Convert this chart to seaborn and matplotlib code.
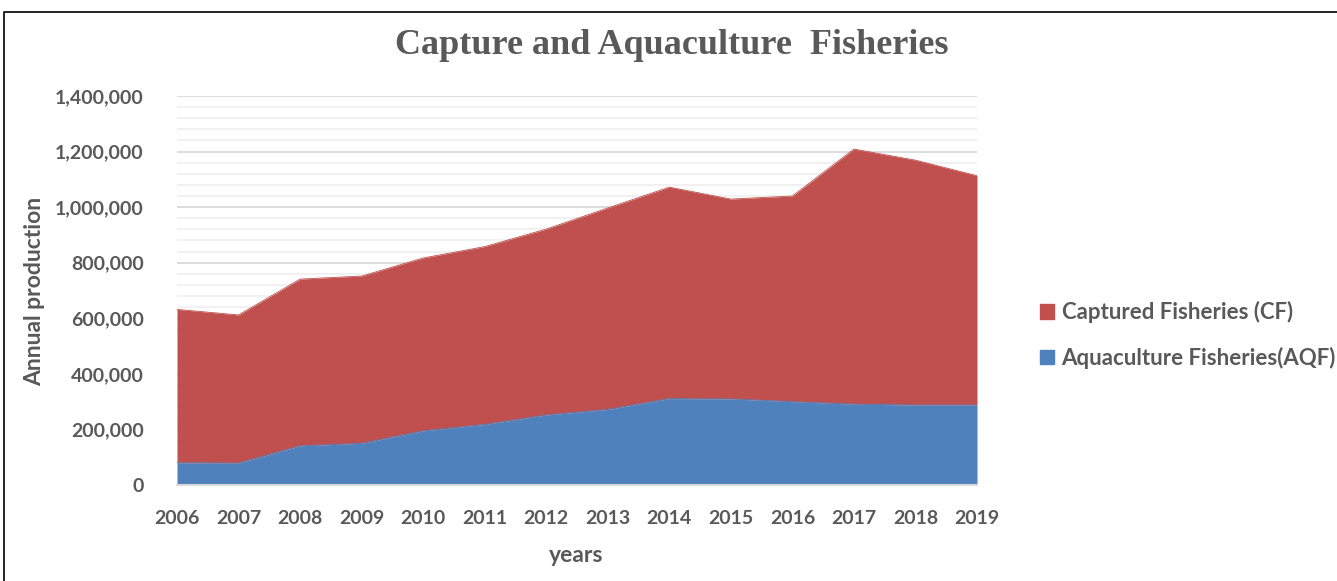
import numpy as np
import pandas as pd
import matplotlib
matplotlib.use("Agg")
import matplotlib.pyplot as plt
from matplotlib.lines import Line2D
from matplotlib.ticker import FuncFormatter, MultipleLocator
import seaborn as sns

years = [2006, 2007, 2008, 2009, 2010, 2011, 2012, 2013, 2014, 2015, 2016, 2017, 2018, 2019]
aquaculture = [80000, 79000, 141000, 150000, 195000, 218000, 252000, 272000, 311000, 310000, 300000, 291000, 288000, 288000]
captured = [552000, 533000, 600000, 602000, 622000, 640000, 669000, 725000, 761000, 719000, 740000, 918000, 881000, 825000]

labels = ["Captured Fisheries (CF)", "Aquaculture Fisheries(AQF)"]
red = "#C0504D"
blue = "#4F81BD"
gray = "#595959"

sns.set_theme(style="white")
plt.rcParams['font.family'] = ['Lato', 'DejaVu Sans']

df = pd.DataFrame({"year": years, "AQF": aquaculture, "CF": captured})
df["total"] = df["AQF"] + df["CF"]

fig = plt.figure(figsize=(13.37, 5.81), dpi=100)
ax = fig.add_axes([177/1337, 1-485/581, 800/1337, 389/581])

ax.fill_between(df["year"], 0, df["AQF"], color=blue, linewidth=0, zorder=2)
ax.fill_between(df["year"], df["AQF"], df["total"], color=red, linewidth=0, zorder=2)
sns.lineplot(x="year", y="AQF", data=df, ax=ax, color=blue, linewidth=0.6, zorder=3)
sns.lineplot(x="year", y="total", data=df, ax=ax, color=red, linewidth=0.6, zorder=3)

ax.set_xlim(2006, 2019)
ax.set_ylim(0, 1400000)
ax.yaxis.set_major_locator(MultipleLocator(200000))
ax.yaxis.set_minor_locator(MultipleLocator(40000))
ax.set_xticks(years)
ax.yaxis.set_major_formatter(FuncFormatter(lambda v, p: f"{int(v):,}"))
ax.grid(which="major", axis="y", color="#d9d9d9", linewidth=1.3, zorder=0)
ax.grid(which="minor", axis="y", color="#f0f0f0", linewidth=1.3, zorder=0)
ax.set_axisbelow(True)
for s in ["top", "right", "left"]:
    ax.spines[s].set_visible(False)
ax.spines["bottom"].set_color("#d9d9d9")
ax.spines["bottom"].set_linewidth(1.5)
ax.tick_params(axis="both", which="both", length=0, labelcolor=gray, labelsize=14)
ax.tick_params(axis="x", pad=18)
ax.tick_params(axis="y", pad=24)
for t in ax.get_xticklabels() + ax.get_yticklabels():
    t.set_fontweight("bold")

ax.set_xlabel("years", fontsize=16.5, fontweight="bold", color=gray, va="center")
ax.set_ylabel("Annual production", fontsize=16.5, fontweight="bold", color=gray, va="center")
ax.xaxis.set_label_coords((576-177)/800, (485-556)/389)
ax.yaxis.set_label_coords((35-177)/800, (485-291)/389)

fig.text(672/1337, 1-45/581, "Capture and Aquaculture  Fisheries", ha="center", va="center",
         fontsize=26, fontweight="bold", color=gray, family=["Liberation Serif"])

handles = [plt.Rectangle((0, 0), 1, 1, color=red), plt.Rectangle((0, 0), 1, 1, color=blue)]
leg = fig.legend(handles, labels, loc="center left", bbox_to_anchor=(1036/1337, 1-335/581),
                 frameon=False, handlelength=0.6, handleheight=0.6,
                 handletextpad=0.35, labelspacing=1.05, labelcolor=gray,
                 borderpad=0.2, borderaxespad=0.0,
                 prop={"weight": "bold", "size": 16})

fig.add_artist(Line2D([4/1337, 4/1337, 1.0], [0.0, 1-12/581, 1-12/581], color="black",
                      linewidth=1.2, transform=fig.transFigure))

fig.savefig("out.png", dpi=100)
